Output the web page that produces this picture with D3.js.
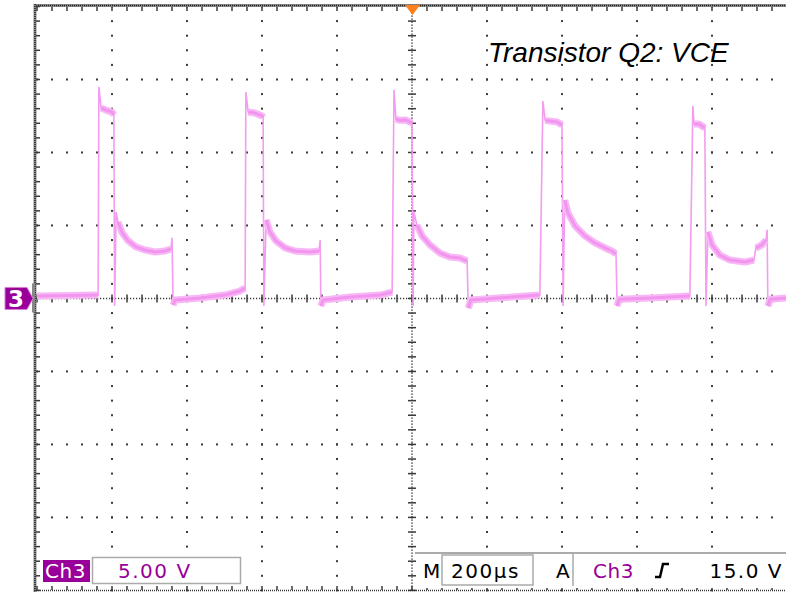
<!DOCTYPE html>
<html>
<head>
<meta charset="utf-8">
<title>Transistor Q2: VCE</title>
<style>
  body { margin: 0; background: #fff; }
  svg { display: block; }
</style>
</head>
<body>
<script src="https://cdn.jsdelivr.net/npm/d3@7"></script>
<script>
// trace: time in us, voltage in V
var traceTime = [0, 163, 165, 171, 184, 200, 205, 207, 211, 216, 227, 243, 264, 288, 315, 341, 357, 360, 363, 368, 435, 501, 541, 555,
  557, 563, 581, 600, 603, 605, 611, 621, 637, 661, 688, 728, 752, 755, 757, 763, 835, 915, 947,
  952, 957, 968, 984, 1000, 1003, 1005, 1013, 1027, 1048, 1075, 1101, 1128, 1147, 1150, 1157, 1230, 1341,
  1349, 1355, 1368, 1387, 1400, 1403, 1407, 1416, 1435, 1461, 1488, 1515, 1533, 1544, 1547, 1552, 1635, 1741,
  1749, 1752, 1765, 1781, 1784, 1789, 1800, 1821, 1848, 1888, 1912, 1917, 1933, 1944, 1947, 1949, 1955, 1997];
var traceVolt = [0.16, 0.23, 14.5, 13.05, 12.9, 12.77, 12.57, -0.52, 5.92, 5.24, 4.5, 3.95, 3.53, 3.32, 3.18, 3.25, 3.38, 4.15, -0.45, -0.1, 0.03, 0.23, 0.51, 0.71,
  14.14, 12.77, 12.7, 12.5, 12.4, -0.52, 5.38, 4.56, 3.95, 3.47, 3.25, 3.18, 3.25, 4.0, -0.52, -0.1, 0.1, 0.23, 0.44,
  14.3, 12.29, 12.2, 12.22, 12.02, -0.52, 5.92, 5.03, 4.28, 3.66, 3.1, 2.84, 2.77, 2.56, -0.66, -0.11, 0.03, 0.23,
  13.52, 12.2, 12.15, 12.09, 11.88, -0.52, 6.73, 5.85, 4.96, 4.28, 3.8, 3.46, 3.25, 3.05, -0.52, -0.05, 0.03, 0.16,
  13.19, 11.95, 11.95, 11.68, -0.52, 4.56, 3.67, 2.97, 2.63, 2.5, 2.63, 3.45, 3.67, 4.0, 4.71, -0.52, -0.05, 0.03];

var timeDomain = [0, 2000];   // 200 us/div x 10
var voltDomain = [-20, 20];   // 5 V/div x 8
var titleText = "Transistor Q2: VCE";
var chLabel = "Ch3";
var voltScale = "5.00 V";
var timeBase = "200µs";
var trigSource = "Ch3";
var trigLevel = "15.0 V";

var width = 786, height = 592;
var purple = "#990099";
var gridCol = "#3a3a3a";

var svg = d3.select("body").append("svg")
  .attr("width", width)
  .attr("height", height);

var x = d3.scaleLinear().domain(timeDomain).range([37, 787]);
var y = d3.scaleLinear().domain(voltDomain).range([590.4, 6.5]);

var majorX = d3.range(0, 2001, 200);
var minorX = d3.range(0, 2001, 40);
var majorY = d3.range(-20, 21, 5);
var minorY = d3.range(-20, 20.5, 1);

// graticule dots
var g = svg.append("g");
majorX.filter(function(d) { return d > 0 && d < 2000 && d !== 1000; }).forEach(function(t) {
  g.selectAll(null).data(minorY).enter().append("rect")
    .attr("x", x(t) - 1).attr("y", function(v) { return y(v) - 1; })
    .attr("width", 2).attr("height", 2).attr("fill", gridCol);
});
majorY.filter(function(d) { return d > -20 && d < 20 && d !== 0; }).forEach(function(v) {
  g.selectAll(null).data(minorX).enter().append("rect")
    .attr("x", function(t) { return x(t) - 1; }).attr("y", y(v) - 1)
    .attr("width", 2).attr("height", 2).attr("fill", gridCol);
});

// center lines with ticks
g.append("line").attr("x1", x(1000)).attr("x2", x(1000)).attr("y1", y(20)).attr("y2", y(-20))
  .attr("stroke", gridCol).attr("stroke-width", 1.5).attr("stroke-dasharray", "1.2,1.8");
g.append("line").attr("x1", x(0)).attr("x2", x(2000)).attr("y1", y(0)).attr("y2", y(0))
  .attr("stroke", gridCol).attr("stroke-width", 1.5).attr("stroke-dasharray", "1.2,1.8");
g.selectAll(null).data(minorY).enter().append("line")
  .attr("x1", x(1000) - 4).attr("x2", x(1000) + 4)
  .attr("y1", function(v) { return y(v); }).attr("y2", function(v) { return y(v); })
  .attr("stroke", gridCol).attr("stroke-width", 1.5);
g.selectAll(null).data(minorX).enter().append("line")
  .attr("x1", function(t) { return x(t); }).attr("x2", function(t) { return x(t); })
  .attr("y1", y(0) - 4).attr("y2", y(0) + 4)
  .attr("stroke", gridCol).attr("stroke-width", 1.5);

// frame: top, left, bottom
g.append("line").attr("x1", 34).attr("x2", width).attr("y1", 5.5).attr("y2", 5.5)
  .attr("stroke", "#8a8a8a").attr("stroke-width", 3);
g.append("line").attr("x1", 34).attr("x2", width).attr("y1", 5.5).attr("y2", 5.5)
  .attr("stroke", "#222").attr("stroke-width", 1.5).attr("stroke-dasharray", "1,1");
g.append("line").attr("x1", 35).attr("x2", 35).attr("y1", 4).attr("y2", 592)
  .attr("stroke", "#8a8a8a").attr("stroke-width", 3);
g.append("line").attr("x1", 35).attr("x2", 35).attr("y1", 4).attr("y2", 592)
  .attr("stroke", "#222").attr("stroke-width", 1.5).attr("stroke-dasharray", "1,1");
g.append("line").attr("x1", 34).attr("x2", width).attr("y1", 590.5).attr("y2", 590.5)
  .attr("stroke", "#333").attr("stroke-width", 1.5).attr("stroke-dasharray", "1,1");

g.selectAll(null).data(minorX).enter().append("line")
  .attr("x1", function(t) { return x(t); }).attr("x2", function(t) { return x(t); })
  .attr("y1", 7).attr("y2", 11).attr("stroke", gridCol).attr("stroke-width", 1.5);
g.selectAll(null).data(minorX).enter().append("line")
  .attr("x1", function(t) { return x(t); }).attr("x2", function(t) { return x(t); })
  .attr("y1", 586).attr("y2", 590).attr("stroke", gridCol).attr("stroke-width", 1.5);
g.selectAll(null).data(minorY).enter().append("line")
  .attr("x1", 36).attr("x2", 40)
  .attr("y1", function(v) { return y(v); }).attr("y2", function(v) { return y(v); })
  .attr("stroke", gridCol).attr("stroke-width", 1.5);

// trace
var pts = traceTime.map(function(t, i) { return [x(t), y(traceVolt[i])]; });
var line = d3.line();

// gentle parts get the wide noisy band, steep edges stay thin
var runs = [], cur = null;
for (var i = 0; i < pts.length - 1; i++) {
  var dx = pts[i + 1][0] - pts[i][0], dy = Math.abs(pts[i + 1][1] - pts[i][1]);
  if (dx > 1 && dy / dx < 4) {
    if (!cur) { cur = [pts[i]]; runs.push(cur); }
    cur.push(pts[i + 1]);
  } else {
    cur = null;
  }
}
svg.append("path").attr("d", line(pts))
  .attr("fill", "none").attr("stroke", "#f39cf0").attr("stroke-width", 1.6);
svg.selectAll(".band").data(runs).enter().append("path")
  .attr("class", "band")
  .attr("d", line)
  .attr("fill", "none").attr("stroke", "#f8b8f6").attr("stroke-width", 7)
  .attr("stroke-linejoin", "round");
svg.selectAll(".core").data(runs).enter().append("path")
  .attr("class", "core")
  .attr("d", line)
  .attr("fill", "none").attr("stroke", "#f195ee").attr("stroke-width", 3)
  .attr("stroke-linejoin", "round");

// trigger marker
svg.append("path")
  .attr("d", "M" + (x(1000) - 7) + ",5 L" + (x(1000) + 8) + ",5 L" + (x(1000) + 0.5) + ",15 Z")
  .attr("fill", "#ff7f1a");

// channel ground marker
svg.append("rect").attr("x", 32).attr("y", y(0) - 15).attr("width", 3).attr("height", 29).attr("fill", "#888");
svg.append("path")
  .attr("d", "M5," + (y(0) - 11) + " L27," + (y(0) - 11) + " L33," + y(0) + " L27," + (y(0) + 11) + " L5," + (y(0) + 11) + " Z")
  .attr("fill", purple).attr("stroke", "#d77fd7").attr("stroke-width", 1);
svg.append("text").attr("x", 16).attr("y", y(0) + 8.5)
  .attr("text-anchor", "middle").attr("fill", "#fff")
  .attr("font-family", "DejaVu Sans").attr("font-weight", "bold").attr("font-size", 23)
  .text("3");

// title
svg.append("text").attr("x", 488).attr("y", 62)
  .attr("font-family", "Liberation Sans, Arial").attr("font-style", "italic").attr("font-size", 28)
  .attr("fill", "#000")
  .text(titleText);

// readout panels
var font = "DejaVu Sans";
svg.append("rect").attr("x", 43).attr("y", 560).attr("width", 47).attr("height", 22).attr("fill", purple);
svg.append("text").attr("x", 45).attr("y", 578).attr("fill", "#fff")
  .attr("font-family", font).attr("font-size", 20).attr("letter-spacing", 0.5).text(chLabel);
svg.append("rect").attr("x", 92.5).attr("y", 557.5).attr("width", 148).attr("height", 26)
  .attr("fill", "#fff").attr("stroke", "#aaa").attr("stroke-width", 1.5);
svg.append("text").attr("x", 118).attr("y", 578).attr("fill", purple)
  .attr("font-family", font).attr("font-size", 20).attr("letter-spacing", 1.5).text(voltScale);

svg.append("rect").attr("x", 416).attr("y", 552).attr("width", 370).attr("height", 36).attr("fill", "#fff");
svg.append("line").attr("x1", 415).attr("x2", width).attr("y1", 553).attr("y2", 553)
  .attr("stroke", "#aaa").attr("stroke-width", 2);
svg.append("text").attr("x", 423).attr("y", 578).attr("fill", "#000")
  .attr("font-family", font).attr("font-size", 20).text("M");
svg.append("rect").attr("x", 442).attr("y", 555).attr("width", 91).attr("height", 30)
  .attr("fill", "#fff").attr("stroke", "#aaa").attr("stroke-width", 1.5);
svg.append("text").attr("x", 451).attr("y", 578).attr("fill", "#000")
  .attr("font-family", font).attr("font-size", 20).attr("letter-spacing", 1.5).text(timeBase);
svg.append("text").attr("x", 556).attr("y", 578).attr("fill", "#000")
  .attr("font-family", font).attr("font-size", 20).text("A");
svg.append("line").attr("x1", 573).attr("x2", 573).attr("y1", 553).attr("y2", 586)
  .attr("stroke", "#aaa").attr("stroke-width", 1.5);
svg.append("text").attr("x", 593).attr("y", 578).attr("fill", purple)
  .attr("font-family", font).attr("font-size", 20).attr("letter-spacing", 0.5).text(trigSource);
svg.append("path").attr("d", "M655,577 L660,577 L663,564 L669,564")
  .attr("fill", "none").attr("stroke", "#000").attr("stroke-width", 2.5);
svg.append("text").attr("x", 783).attr("y", 578).attr("text-anchor", "end").attr("fill", "#000")
  .attr("font-family", font).attr("font-size", 20).attr("letter-spacing", 1.5).text(trigLevel);
</script>
</body>
</html>
